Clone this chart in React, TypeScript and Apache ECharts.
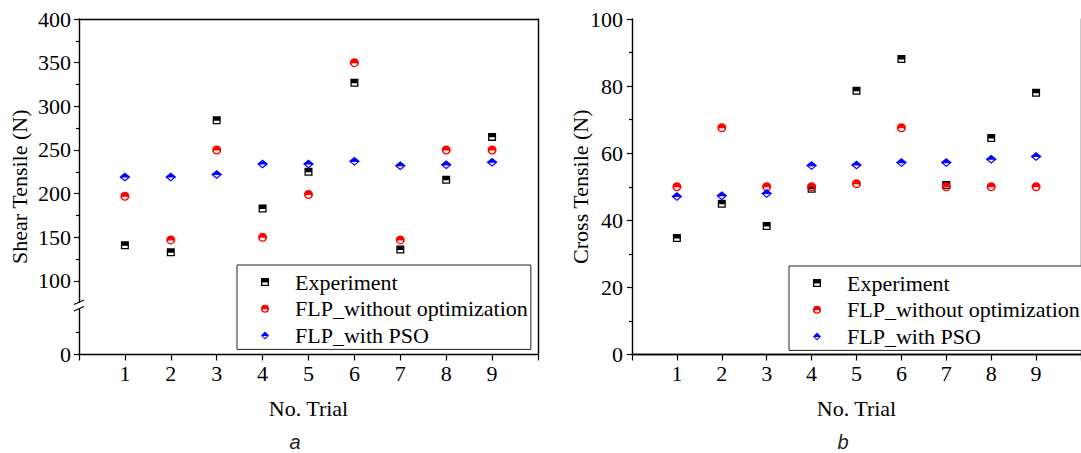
import React, { useEffect, useRef } from "react";
import * as echarts from "echarts";

// ---------- data ----------
const trials = [1, 2, 3, 4, 5, 6, 7, 8, 9];
const xTickValues = [0, 1, 2, 3, 4, 5, 6, 7, 8, 9, 10];

const shearExperiment = [141, 133, 284, 183, 225, 327, 136, 216, 265];
const shearFlpNoOpt = [197, 147, 250, 150, 199, 350, 147, 250, 250];
const shearFlpPso = [219, 219, 222, 234, 234, 237, 232, 233, 236];

const crossExperiment = [34.7, 44.9, 38.3, 49.4, 78.6, 88.1, 50.5, 64.5, 78];
const crossFlpNoOpt = [50, 67.6, 50, 50, 50.9, 67.6, 50, 50, 50];
const crossFlpPso = [47.1, 47.3, 48, 56.3, 56.5, 57.2, 57.2, 58.2, 59];

const shearMajorTicks = [100, 150, 200, 250, 300, 350, 400];
const shearMinorTicks = [125, 175, 225, 275, 325, 375];
const shearLowMajor = [0];
const shearLowMinor = [25];

const seriesNames = ["Experiment", "FLP_without optimization", "FLP_with PSO"];

// ---------- symbols ----------
const SQUARE = "path://M0,0 H10 V10 H0 Z M1.6,5.6 V8.4 H8.4 V5.6 Z";
const CIRCLE = "path://M5,0 A5,5 0 1,1 5,10 A5,5 0 1,1 5,0 Z M8,5.6 L2,5.6 A3,3 0 0,0 8,5.6 Z";
const DIAMOND = "path://M5,0 L10,5 L5,10 L0,5 Z M2.3,5.6 L5,8.3 L7.7,5.6 Z";

const FONT = "Liberation Serif, Times New Roman, serif";
const AXIS_COLOR = "#000";
const AXIS_W = 1.4;

const pairs = (vals: number[]) => trials.map((t, i) => [t, vals[i]]);

function lineOnlyX(gridIndex: number, position: string) {
  return {
    type: "value",
    gridIndex,
    position,
    min: 0,
    max: 10,
    axisLine: { show: true, lineStyle: { color: AXIS_COLOR, width: AXIS_W } },
    axisTick: { show: false },
    axisLabel: { show: false },
    splitLine: { show: false },
  };
}
function lineOnlyY(gridIndex: number, position: string, min: number, max: number) {
  return {
    type: "value",
    gridIndex,
    position,
    min,
    max,
    axisLine: { show: true, onZero: false, lineStyle: { color: AXIS_COLOR, width: AXIS_W } },
    axisTick: { show: false },
    axisLabel: { show: false },
    splitLine: { show: false },
  };
}
function bottomX(gridIndex: number) {
  return {
    type: "value",
    gridIndex,
    position: "bottom",
    min: 0,
    max: 10,
    name: "No. Trial",
    nameLocation: "middle",
    nameGap: 43,
    nameTextStyle: { fontFamily: FONT, fontSize: 22, color: "#000" },
    axisLine: { show: true, onZero: false, lineStyle: { color: AXIS_COLOR, width: AXIS_W } },
    axisTick: {
      show: true,
      length: 6,
      customValues: xTickValues,
      lineStyle: { color: AXIS_COLOR, width: 1.2 },
    },
    axisLabel: {
      show: true,
      customValues: trials,
      margin: 8,
      fontFamily: FONT,
      fontSize: 22,
      color: "#000",
    },
    splitLine: { show: false },
  };
}

function makeSeries(name: string, symbol: string, size: number[], color: string, data: number[][], xi: number, yi: number) {
  return {
    type: "scatter",
    name,
    xAxisIndex: xi,
    yAxisIndex: yi,
    symbol,
    symbolSize: size,
    itemStyle: { color, opacity: 1 },
    data,
    z: 5,
  };
}

function legendAt(left: number, top: number) {
  return {
    orient: "vertical",
    left,
    top,
    padding: [6, 3, 3, 24],
    itemWidth: 8,
    itemHeight: 8,
    itemGap: 4.7,
    backgroundColor: "#fff",
    borderColor: "#222",
    borderWidth: 1,
    borderRadius: 0,
    textStyle: { fontFamily: FONT, fontSize: 22, lineHeight: 22, color: "#000", padding: [0, 0, 0, 21] },
    data: seriesNames,
    selectedMode: false,
  };
}

export default function App() {
  const ref = useRef<HTMLDivElement>(null);
  useEffect(() => {
    if (!ref.current) return;
    const chart = echarts.init(ref.current, undefined, { renderer: "svg" });
    const option: any = {
      animation: false,
      backgroundColor: "#fff",
      textStyle: { fontFamily: FONT },
      grid: [
        { left: 79, top: 19, width: 459, height: 286 },
        { left: 79, top: 305, width: 459, height: 49.5 },
        { left: 632, top: 19, width: 460, height: 335.5 },
      ],
      xAxis: [
        lineOnlyX(0, "top"),
        bottomX(1),
        bottomX(2),
        lineOnlyX(2, "top"),
      ],
      yAxis: [
        {
          type: "value",
          gridIndex: 0,
          position: "left",
          min: 72.5,
          max: 400,
          axisLine: { show: true, onZero: false, lineStyle: { color: AXIS_COLOR, width: AXIS_W } },
          axisTick: { show: true, length: 5, customValues: shearMajorTicks, lineStyle: { color: AXIS_COLOR, width: 1.2 } },
          axisLabel: { show: true, customValues: shearMajorTicks, margin: 8, fontFamily: FONT, fontSize: 22, color: "#000" },
          splitLine: { show: false },
        },
        {
          type: "value",
          gridIndex: 0,
          position: "left",
          min: 72.5,
          max: 400,
          axisLine: { show: false },
          axisTick: { show: true, length: 3, customValues: shearMinorTicks, lineStyle: { color: AXIS_COLOR, width: 1.2 } },
          axisLabel: { show: false },
          splitLine: { show: false },
        },
        lineOnlyY(0, "right", 72.5, 400),
        {
          type: "value",
          gridIndex: 1,
          position: "left",
          min: 0,
          max: 56.7,
          axisLine: { show: true, onZero: false, lineStyle: { color: AXIS_COLOR, width: AXIS_W } },
          axisTick: { show: true, length: 5, customValues: shearLowMajor, lineStyle: { color: AXIS_COLOR, width: 1.2 } },
          axisLabel: { show: true, customValues: shearLowMajor, margin: 8, fontFamily: FONT, fontSize: 22, color: "#000" },
          splitLine: { show: false },
        },
        {
          type: "value",
          gridIndex: 1,
          position: "left",
          min: 0,
          max: 56.7,
          axisLine: { show: false },
          axisTick: { show: true, length: 3, customValues: shearLowMinor, lineStyle: { color: AXIS_COLOR, width: 1.2 } },
          axisLabel: { show: false },
          splitLine: { show: false },
        },
        lineOnlyY(1, "right", 0, 56.7),
        {
          type: "value",
          gridIndex: 2,
          position: "left",
          min: 0,
          max: 100,
          interval: 20,
          axisLine: { show: true, onZero: false, lineStyle: { color: AXIS_COLOR, width: AXIS_W } },
          axisTick: { show: true, length: 5, lineStyle: { color: AXIS_COLOR, width: 1.2 } },
          minorTick: { show: true, splitNumber: 2, length: 3, lineStyle: { color: AXIS_COLOR, width: 1.2 } },
          axisLabel: { show: true, margin: 9, fontFamily: FONT, fontSize: 22, color: "#000" },
          splitLine: { show: false },
        },
        lineOnlyY(2, "right", 0, 100),
      ],
      legend: [legendAt(237, 265), legendAt(789, 266)],
      series: [
        makeSeries(seriesNames[0], SQUARE, [8, 8], "#000000", pairs(shearExperiment), 0, 0),
        makeSeries(seriesNames[1], CIRCLE, [9, 9], "#ff0000", pairs(shearFlpNoOpt), 0, 0),
        makeSeries(seriesNames[2], DIAMOND, [11, 9], "#0000ff", pairs(shearFlpPso), 0, 0),
        makeSeries(seriesNames[0], SQUARE, [8, 8], "#000000", pairs(crossExperiment), 2, 6),
        makeSeries(seriesNames[1], CIRCLE, [9, 9], "#ff0000", pairs(crossFlpNoOpt), 2, 6),
        makeSeries(seriesNames[2], DIAMOND, [11, 9], "#0000ff", pairs(crossFlpPso), 2, 6),
      ],
      graphic: [
        {
          type: "text",
          x: 19,
          y: 186.7,
          rotation: Math.PI / 2,
          z: 50,
          style: { text: "Shear Tensile (N)", fontFamily: FONT, fontSize: 22, fill: "#000", align: "center", verticalAlign: "middle" },
        },
        {
          type: "text",
          x: 580,
          y: 186.7,
          rotation: Math.PI / 2,
          z: 50,
          style: { text: "Cross Tensile (N)", fontFamily: FONT, fontSize: 22, fill: "#000", align: "center", verticalAlign: "middle" },
        },
        {
          type: "text",
          x: 295,
          y: 442,
          z: 50,
          style: { text: "a", fontFamily: "Liberation Sans, Arial, sans-serif", fontStyle: "italic", fontSize: 20, fill: "#222", align: "center", verticalAlign: "middle" },
        },
        {
          type: "text",
          x: 843,
          y: 442,
          z: 50,
          style: { text: "b", fontFamily: "Liberation Sans, Arial, sans-serif", fontStyle: "italic", fontSize: 20, fill: "#222", align: "center", verticalAlign: "middle" },
        },
        // axis break on the left chart
        { type: "rect", z: 100, shape: { x: 74, y: 302.5, width: 10, height: 6 }, style: { fill: "#fff" } },
        { type: "line", z: 101, shape: { x1: 74, y1: 304.5, x2: 84, y2: 300 }, style: { stroke: "#000", lineWidth: 1.3 } },
        { type: "line", z: 101, shape: { x1: 74, y1: 311, x2: 84, y2: 306.5 }, style: { stroke: "#000", lineWidth: 1.3 } },
      ],
    };
    chart.setOption(option);
    return () => chart.dispose();
  }, []);
  return (
    <div
      ref={ref}
      style={{ position: "fixed", left: 0, top: 0, width: 1081, height: 453, background: "#fff" }}
    />
  );
}
